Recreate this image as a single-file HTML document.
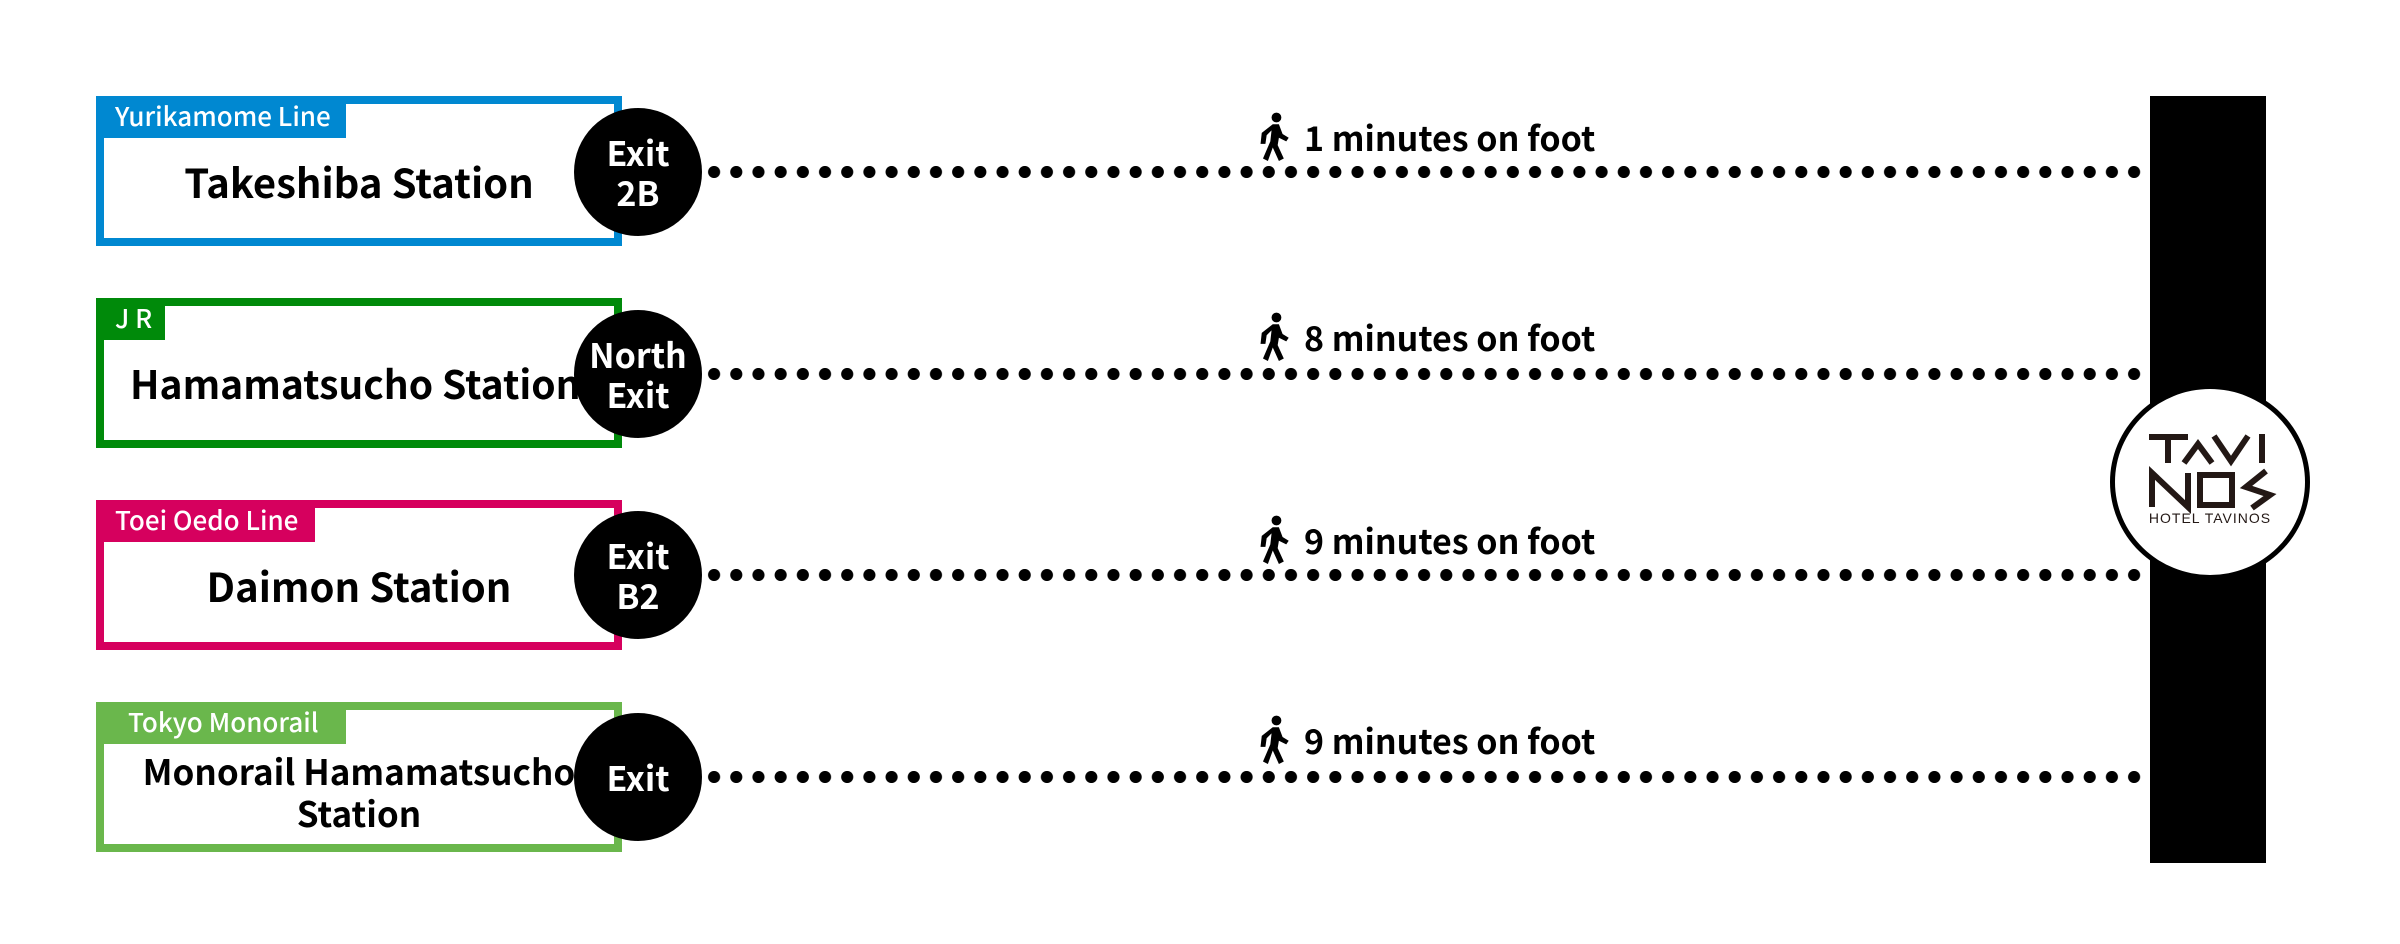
<!DOCTYPE html>
<html><head><meta charset="utf-8"><style>
*{margin:0;padding:0;box-sizing:border-box}
body{width:2400px;height:944px;background:#fff;position:relative;overflow:hidden;font-family:"Noto Sans CJK JP","Liberation Sans",sans-serif}
.box{position:absolute;left:96px;width:526px;height:150px;border:8px solid;background:#fff}
.tab{position:absolute;left:-8px;top:-8px;height:42px;color:#fff;font-size:26px;font-weight:500;line-height:40px;padding-left:19px;white-space:nowrap}
.name{position:absolute;left:0;right:0;text-align:center;font-weight:700;font-size:40px;color:#000;line-height:44px;white-space:nowrap}
.ex{position:absolute;left:574px;width:128px;height:128px;border-radius:50%;background:#000;color:#fff;font-weight:700;font-size:34px;line-height:40px;display:flex;align-items:center;justify-content:center;text-align:center}
.dots{position:absolute;left:703px;width:1447px;height:12px;background:radial-gradient(circle,#000 5.8px,transparent 6.3px) 0 0/22.2px 12px repeat-x}
.walk{position:absolute;left:1258px;font-weight:700;font-size:34px;line-height:44px;color:#000;display:flex;align-items:center}
.walk svg{margin-right:14px}
</style></head><body>

<div class="box" style="top:96px;border-color:#0088d1"><div class="tab" style="background:#0088d1;width:250px">Yurikamome Line</div><div class="name" style="top:55px">Takeshiba Station</div></div>
<div class="box" style="top:298px;border-color:#008a0a"><div class="tab" style="background:#008a0a;width:69px">J R</div><div class="name" style="top:55px;left:26px;right:auto;text-align:left;font-size:39px">Hamamatsucho Station</div></div>
<div class="box" style="top:500px;border-color:#d6005e"><div class="tab" style="background:#d6005e;width:219px">Toei Oedo Line</div><div class="name" style="top:55px">Daimon Station</div></div>
<div class="box" style="top:702px;border-color:#6ab74c"><div class="tab" style="background:#6ab74c;width:250px;padding-left:32px">Tokyo Monorail</div><div class="name" style="top:40px;font-size:35px;line-height:42px;left:-10px;right:-10px">Monorail Hamamatsucho<br>Station</div></div>

<div class="ex" style="top:108px">Exit<br>2B</div>
<div class="ex" style="top:310px">North<br>Exit</div>
<div class="ex" style="top:511px">Exit<br>B2</div>
<div class="ex" style="top:713px">Exit</div>

<div class="dots" style="top:166px"></div>
<div class="dots" style="top:368px"></div>
<div class="dots" style="top:569px"></div>
<div class="dots" style="top:771px"></div>

<div style="position:absolute;left:2150px;top:96px;width:116px;height:767px;background:#000"></div>
<div style="position:absolute;left:2110px;top:384px;width:200px;height:196px;border-radius:50%;background:#fff;border:5px solid #000"></div>
<svg style="position:absolute;left:2110px;top:387px" width="200" height="200" viewBox="0 0 200 200">
<g fill="none" stroke="#231815" stroke-width="6">
<path d="M39 50H78M58 50V76"/><path d="M74 76L88 57L102 76"/><path d="M104 49L121 74L138 49"/><path d="M152 47V76"/>
<path d="M42 120V86L78 120V86"/><rect x="90" y="88" width="32" height="30"/><path d="M156 84L136 100L160 108L142 121"/>
</g>
<text x="100" y="136" text-anchor="middle" font-family="Liberation Sans,sans-serif" font-size="14" fill="#231815" letter-spacing="1">HOTEL TAVINOS</text>
</svg>

<div class="walk" style="top:112px"><svg width="32" height="49" viewBox="0 0 26 40"><circle cx="15" cy="4.5" r="4"/><path d="M12 10L17 10L20 18L25 21L23 24L17 21L16 27L21 38L17 40L12 29L8 40L4 38L10 24L11 15L7 19L6 26L2 26L3 17Z"/></svg>1 minutes on foot</div>
<div class="walk" style="top:312px"><svg width="32" height="49" viewBox="0 0 26 40"><circle cx="15" cy="4.5" r="4"/><path d="M12 10L17 10L20 18L25 21L23 24L17 21L16 27L21 38L17 40L12 29L8 40L4 38L10 24L11 15L7 19L6 26L2 26L3 17Z"/></svg>8 minutes on foot</div>
<div class="walk" style="top:515px"><svg width="32" height="49" viewBox="0 0 26 40"><circle cx="15" cy="4.5" r="4"/><path d="M12 10L17 10L20 18L25 21L23 24L17 21L16 27L21 38L17 40L12 29L8 40L4 38L10 24L11 15L7 19L6 26L2 26L3 17Z"/></svg>9 minutes on foot</div>
<div class="walk" style="top:715px"><svg width="32" height="49" viewBox="0 0 26 40"><circle cx="15" cy="4.5" r="4"/><path d="M12 10L17 10L20 18L25 21L23 24L17 21L16 27L21 38L17 40L12 29L8 40L4 38L10 24L11 15L7 19L6 26L2 26L3 17Z"/></svg>9 minutes on foot</div>

</body></html>
